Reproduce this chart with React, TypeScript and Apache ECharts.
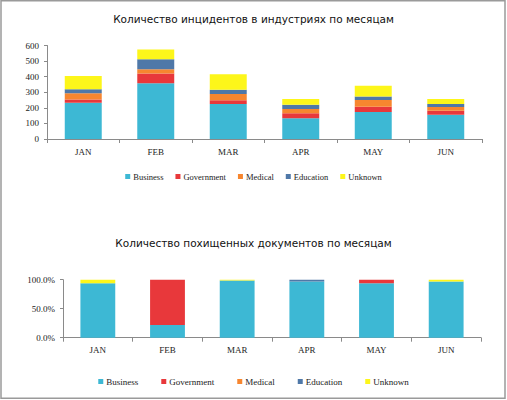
import React, { useEffect, useRef } from "react";
import * as echarts from "echarts";

const months = ["JAN", "FEB", "MAR", "APR", "MAY", "JUN"];
const seriesNames = ["Business", "Government", "Medical", "Education", "Unknown"];
const colors = ["#3db8d4", "#e8383b", "#f7862f", "#4f78a8", "#fdf61a"];

// Top chart: incidents by industry per month
const incBusiness = [233, 357, 224, 133, 173, 156];
const incGovernment = [21, 64, 24, 32, 34, 26];
const incMedical = [39, 26, 40, 27, 43, 23];
const incEducation = [27, 64, 28, 28, 23, 19];
const incUnknown = [84, 64, 99, 36, 69, 32];

// Bottom chart: stolen documents share per month (%)
const docBusiness = [94, 22, 98.5, 97, 94, 97];
const docGovernment = [0, 78, 0, 0, 6, 0];
const docMedical = [0, 0, 0, 0, 0, 0];
const docEducation = [0, 0, 0, 3, 0, 0];
const docUnknown = [6, 0, 1.5, 0, 0, 3];

const topTitle = "Количество инцидентов в индустриях по месяцам";
const bottomTitle = "Количество похищенных документов по месяцам";

export default function App() {
  const ref = useRef<HTMLDivElement>(null);
  useEffect(() => {
    if (!ref.current) return;
    const chart = echarts.init(ref.current, null, { renderer: "svg" });
    const serif = "'Liberation Serif', 'DejaVu Serif', serif";
    const axisColor = "#8a8a8a";
    const topData = [incBusiness, incGovernment, incMedical, incEducation, incUnknown];
    const botData = [docBusiness, docGovernment, docMedical, docEducation, docUnknown];
    const catAxis = (gridIndex: number) => ({
      type: "category",
      gridIndex,
      data: months,
      axisLine: { lineStyle: { color: axisColor } },
      axisTick: { show: true, length: 4, lineStyle: { color: axisColor } },
      axisLabel: { color: "#222", fontFamily: serif, fontSize: 9, margin: 8 },
    });
    const series: any[] = [];
    seriesNames.forEach((name, i) => {
      series.push({
        name,
        type: "bar",
        stack: "top",
        xAxisIndex: 0,
        yAxisIndex: 0,
        barWidth: "51%",
        itemStyle: { color: colors[i] },
        data: topData[i],
      });
    });
    seriesNames.forEach((name, i) => {
      series.push({
        name,
        type: "bar",
        stack: "bot",
        xAxisIndex: 1,
        yAxisIndex: 1,
        barWidth: "50%",
        itemStyle: { color: colors[i] },
        data: botData[i],
      });
    });
    const titleStyle = {
      fontFamily: "'DejaVu Sans', sans-serif",
      fontSize: 10.5,
      fontWeight: "normal",
      color: "#111",
    };
    chart.setOption({
      animation: false,
      backgroundColor: "#ffffff",
      title: [
        { text: topTitle, left: "center", top: 8, textStyle: titleStyle },
        { text: bottomTitle, left: "center", top: 232, textStyle: titleStyle },
      ],
      legend: [
        {
          data: seriesNames,
          left: "center",
          top: 167,
          itemWidth: 5,
          itemHeight: 5,
          itemGap: 12,
          icon: "rect",
          textStyle: { fontFamily: serif, fontSize: 8.5, color: "#222", padding: [0, 0, 0, -2] },
        },
        {
          data: seriesNames,
          left: "center",
          top: 372,
          itemWidth: 5,
          itemHeight: 5,
          itemGap: 23,
          icon: "rect",
          textStyle: { fontFamily: serif, fontSize: 9, color: "#222", padding: [0, 0, 0, -2] },
        },
      ],
      grid: [
        { left: 47, right: 25, top: 45.5, bottom: 261 },
        { left: 63, right: 26, top: 279.7, bottom: 62.3 },
      ],
      xAxis: [catAxis(0), catAxis(1)],
      yAxis: [
        {
          type: "value",
          gridIndex: 0,
          min: 0,
          max: 600,
          interval: 100,
          splitLine: { show: false },
          axisLine: { show: true, lineStyle: { color: axisColor } },
          axisTick: { show: true, length: 3, lineStyle: { color: axisColor } },
          axisLabel: { color: "#222", fontFamily: serif, fontSize: 9, margin: 8 },
        },
        {
          type: "value",
          gridIndex: 1,
          min: 0,
          max: 100,
          interval: 50,
          splitLine: { show: false },
          axisLine: { show: true, lineStyle: { color: axisColor } },
          axisTick: { show: true, length: 3, lineStyle: { color: axisColor } },
          axisLabel: {
            color: "#222",
            fontFamily: serif,
            fontSize: 9,
            margin: 8,
            formatter: (v: number) => v.toFixed(1) + "%",
          },
        },
      ],
      graphic: [
        {
          type: "rect",
          shape: { x: 1, y: 0.75, width: 504, height: 397.5 },
          style: { fill: "none", stroke: "#9a9a9a", lineWidth: 1.5 },
          silent: true,
        },
      ],
      series,
    });
    return () => chart.dispose();
  }, []);
  return (
    <div
      ref={ref}
      style={{ position: "absolute", left: 0, top: 0, width: 507, height: 400 }}
    />
  );
}
